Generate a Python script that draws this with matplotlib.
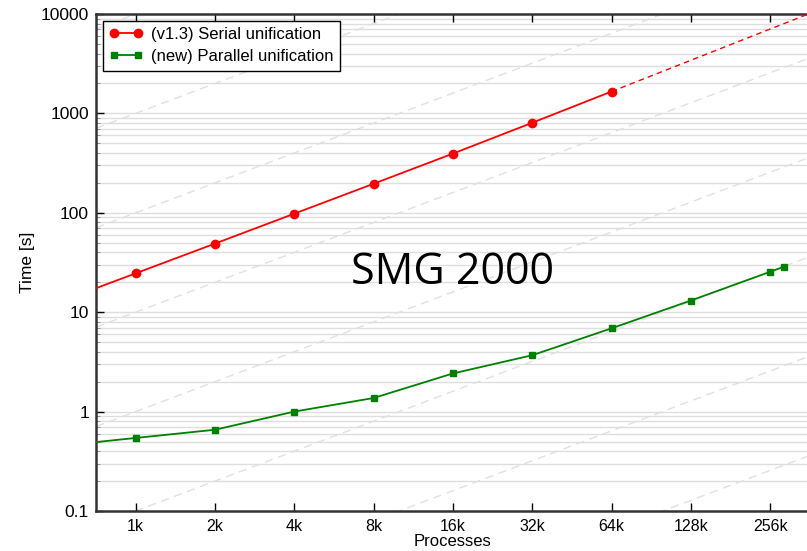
import numpy as np
import matplotlib
matplotlib.use("Agg")
import matplotlib.pyplot as plt
from matplotlib.ticker import FixedLocator, NullFormatter, LogLocator

plt.rcParams['font.family'] = ['Liberation Sans', 'DejaVu Sans']

# Process counts (1k = 1024)
procs = [1024, 2048, 4096, 8192, 16384, 32768, 65536, 131072, 262144, 294912]
tick_procs = [1024, 2048, 4096, 8192, 16384, 32768, 65536, 131072, 262144]
tick_labels = ['1k', '2k', '4k', '8k', '16k', '32k', '64k', '128k', '256k']

# Measured times [s]
serial_procs = procs[:7]
serial_time = [24.6, 49.0, 98.0, 196.0, 394.0, 805.0, 1660.0]
parallel_time = [0.543, 0.657, 1.0, 1.37, 2.42, 3.69, 6.88, 13.1, 25.5, 28.6]

xmin, xmax = 1024 / np.sqrt(2), 262144 * np.sqrt(2)
ymin, ymax = 0.1, 10000

fig = plt.figure(figsize=(8.07, 5.51), dpi=100)
ax = fig.add_axes([96 / 807, 40 / 551, 713.8 / 807, 497 / 551])
ax.set_xscale('log', base=2)
ax.set_yscale('log')
ax.set_xlim(xmin, xmax)
ax.set_ylim(ymin, ymax)

# horizontal grid
for dec in range(-1, 4):
    for m in range(1, 10):
        v = m * 10.0 ** dec
        if ymin < v < ymax:
            ax.axhline(v, color='#dedede', lw=1.0, zorder=0)

# ideal linear-scaling reference lines
xs = np.array([xmin, xmax])
for k in range(-3, 5):
    ax.plot(xs, 10.0 ** k * xs / 1024, color='#e0e0e0', lw=1.0,
            ls=(0, (6, 4)), zorder=1)


def power_extend(x0, y0, x1, y1, xe):
    s = np.log(y1 / y0) / np.log(x1 / x0)
    return y0 * (xe / x0) ** s


# serial unification: extrapolated to the left, projected to the right
yl = power_extend(serial_procs[0], serial_time[0], serial_procs[1], serial_time[1], xmin)
ax.plot([xmin, serial_procs[0]], [yl, serial_time[0]], color='red', lw=1.3, zorder=3)
yr = power_extend(serial_procs[-2], serial_time[-2], serial_procs[-1], serial_time[-1], xmax)
ax.plot([serial_procs[-1], xmax], [serial_time[-1], yr], color='red', lw=1.0,
        ls=(0, (4, 3)), zorder=3)
ax.plot(serial_procs, serial_time, color='red', lw=1.3, marker='o', ms=6,
        label='(v1.3) Serial unification', zorder=4)

# parallel unification
yl2 = power_extend(procs[0], parallel_time[0], procs[1], parallel_time[1], xmin)
ax.plot([xmin, procs[0]], [yl2, parallel_time[0]], color='#008000', lw=1.3, zorder=3)
ax.plot(procs, parallel_time, color='#008000', lw=1.3, marker='s', ms=5,
        label='(new) Parallel unification', zorder=4)

# ticks
ax.xaxis.set_major_locator(FixedLocator(tick_procs))
ax.set_xticklabels(tick_labels)
ax.xaxis.set_minor_locator(FixedLocator([]))
ax.yaxis.set_major_locator(FixedLocator([0.1, 1, 10, 100, 1000, 10000]))
ax.set_yticklabels(['0.1', '1', '10', '100', '1000', '10000'])
ax.yaxis.set_minor_locator(LogLocator(base=10, subs=np.arange(2, 10)))
ax.yaxis.set_minor_formatter(NullFormatter())
ax.tick_params(axis='both', which='major', direction='in', length=6, width=1.0,
               top=True, colors='black')
ax.tick_params(axis='x', labelsize=11.5, pad=6)
ax.tick_params(axis='y', labelsize=12.5, pad=5)
ax.tick_params(axis='y', which='minor', direction='in', length=3, width=0.6, color='#888888')

for side in ('left', 'bottom', 'top'):
    ax.spines[side].set_color('#333333')
    ax.spines[side].set_linewidth(1.8)
ax.spines['right'].set_visible(False)

ax.set_xlabel('Processes', fontsize=12, labelpad=0)
ax.set_ylabel('Time [s]', fontsize=12.5, labelpad=4)

leg = ax.legend(loc='upper left', fontsize=12, numpoints=2, fancybox=False,
                framealpha=1, edgecolor='black', borderpad=0.4,
                handlelength=2.0, handletextpad=0.5, labelspacing=0.4,
                borderaxespad=0.4)
leg.get_frame().set_linewidth(1.0)

ax.text(0.5, 0.48, 'SMG 2000', transform=ax.transAxes, fontsize=31,
        family='Open Sans', ha='center', va='center', color='black', zorder=5)

fig.savefig('out.png', dpi=100)
